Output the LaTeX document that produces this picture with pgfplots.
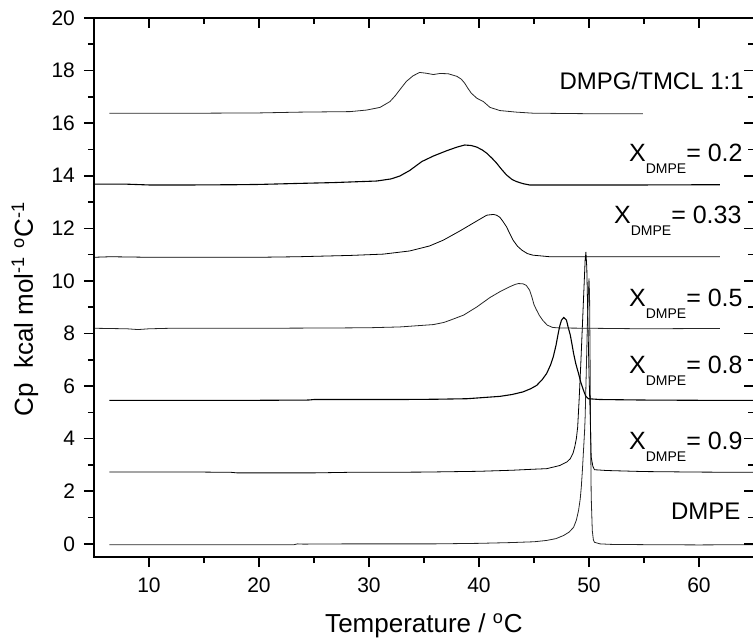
\documentclass[border=0pt]{standalone}
\usepackage{pgfplots}
\pgfplotsset{compat=1.18}
\usepackage{fontspec}
\setmainfont{Liberation Sans}
\newcommand{\xd}[1]{X\raisebox{-5.8pt}{\fontsize{7}{7}\selectfont DMPE}= #1}
\begin{document}
\begin{tikzpicture}
\pgfplotsset{
  common/.style={
    scale only axis, width=330pt, height=269.5pt,
    xmin=5, xmax=65, ymin=-0.5, ymax=20,
    xtick={10,20,30,40,50,60}, ytick={0,2,4,6,8,10,12,14,16,18,20},
    minor x tick num=1, minor y tick num=1,
    major tick length=5pt, minor tick length=3pt,
    axis line style={line width=1pt},
    every tick/.style={line width=0.8pt, black},
    /pgf/number format/assume math mode=true,
    ticklabel style={font=\fontsize{10.5}{12}\selectfont},
  }
}
\begin{axis}[common,
  tick align=outside, xtick pos=left, ytick pos=left,
  xlabel={Temperature / \textsuperscript{o}C},
  ylabel={Cp\ \ kcal mol\textsuperscript{-1} \textsuperscript{o}C\textsuperscript{-1}},
  xlabel style={font=\fontsize{13}{15}\selectfont, at={(axis description cs:0.5,0)}, anchor=base, yshift=-37.5pt},
  ylabel style={font=\fontsize{13}{15}\selectfont, at={(axis description cs:-0.1045,0.46)}, anchor=center},
  xticklabel style={yshift=-2pt},
  yticklabel style={xshift=-1pt},
  cycle list={{black!85, no marks, line width=0.55pt}},
  label style={inner sep=0pt},
]
% DMPE
\addplot coordinates {(6.4,-0.03)(10,-0.03)(15,-0.03)(20,-0.03)(23.2,-0.03)(23.5,0.0)(24,-0.01)(28,0.0)(32,0.0)(36,0.0)(40,0.02)(43,0.05)(45,0.08)(46.15,0.13)(47,0.2)(47.7,0.32)(48.2,0.45)(48.6,0.63)(48.85,0.9)(49.05,1.27)(49.2,1.7)(49.3,2.16)(49.4,2.8)(49.5,3.55)(49.6,4.3)(49.65,4.82)(49.75,6.5)(49.85,8.3)(49.95,9.6)(50.0,10.1)(50.05,9.5)(50.1,7.0)(50.15,4.0)(50.2,1.8)(50.3,0.5)(50.4,0.15)(50.5,0.06)(51,0.0)(52,-0.02)(55,-0.03)(60,-0.04)(65,-0.03)};
% X 0.9
\addplot coordinates {(6.4,2.73)(10,2.73)(15,2.73)(17.5,2.72)(18,2.70)(20,2.70)(25,2.70)(28,2.72)(30,2.72)(35,2.73)(40,2.76)(43,2.8)(45,2.84)(46.15,2.86)(47.35,2.98)(48.0,3.12)(48.3,3.24)(48.55,3.45)(48.7,3.68)(48.85,4.0)(48.97,4.44)(49.1,5.46)(49.25,6.8)(49.4,8.3)(49.55,9.8)(49.65,10.8)(49.72,11.1)(49.8,10.5)(49.9,8.5)(50.0,6.5)(50.1,5.0)(50.2,3.3)(50.35,2.95)(50.5,2.82)(51.6,2.79)(55,2.75)(60,2.73)(65,2.72)};
% X 0.8
\addplot coordinates {(6.4,5.46)(10,5.46)(15,5.46)(20,5.46)(24.5,5.47)(25,5.49)(30,5.49)(32.8,5.49)(36,5.5)(38.9,5.52)(41.9,5.61)(43,5.68)(44.0,5.78)(44.7,5.9)(45.25,6.03)(45.75,6.25)(46.15,6.48)(46.5,6.8)(46.75,7.11)(47.0,7.55)(47.2,8.0)(47.35,8.3)(47.5,8.51)(47.7,8.61)(47.95,8.51)(48.1,8.25)(48.3,7.94)(48.45,7.6)(48.6,7.24)(48.8,6.85)(49.05,6.48)(49.25,6.15)(49.5,5.84)(49.7,5.62)(49.95,5.52)(51.0,5.49)(55,5.47)(60,5.46)(65,5.46)};
% X 0.5
\addplot coordinates {(5.0,8.2)(8,8.18)(9,8.15)(10,8.18)(12,8.2)(20,8.2)(26.5,8.21)(30,8.22)(32.8,8.25)(34.5,8.3)(35.85,8.34)(36.8,8.42)(37.4,8.51)(38.6,8.7)(39.8,9.01)(41.0,9.37)(41.9,9.59)(42.8,9.78)(43.3,9.87)(43.6,9.9)(44.0,9.89)(44.3,9.83)(44.6,9.65)(44.8,9.4)(45.0,9.1)(45.2,8.92)(45.5,8.68)(45.8,8.5)(46.2,8.32)(46.7,8.23)(47.4,8.21)(50,8.2)(55,8.18)(60,8.19)(61.9,8.19)};
% X 0.33
\addplot coordinates {(5.0,10.9)(6.5,10.92)(10,10.9)(15,10.9)(20,10.9)(23.5,10.92)(28.3,10.97)(31.3,11.02)(33.7,11.14)(35.5,11.33)(36.75,11.55)(38.3,11.91)(39.8,12.28)(40.7,12.5)(41.3,12.53)(41.6,12.5)(41.9,12.42)(42.2,12.25)(42.5,12.06)(42.8,11.8)(43.1,11.55)(43.5,11.32)(43.9,11.17)(44.4,11.04)(44.9,10.98)(46.45,10.92)(50,10.92)(55,10.92)(61.9,10.92)};
% X 0.2
\addplot coordinates {(5.0,13.68)(8,13.68)(10,13.65)(14,13.65)(18,13.66)(20,13.67)(23.7,13.71)(26.75,13.74)(30.7,13.8)(32.0,13.88)(32.8,13.99)(33.7,14.2)(34.8,14.54)(35.85,14.75)(37.05,14.95)(38.0,15.09)(38.7,15.17)(39.3,15.15)(39.8,15.09)(40.3,14.98)(40.7,14.86)(41.2,14.66)(41.6,14.48)(42.0,14.27)(42.5,14.03)(43.0,13.86)(43.4,13.78)(44.0,13.7)(44.6,13.65)(46.45,13.65)(50,13.65)(55,13.65)(61.9,13.66)};
% DMPG/TMCL
\addplot coordinates {(6.4,16.38)(10,16.38)(15,16.38)(20,16.39)(23.7,16.42)(28.3,16.44)(29.8,16.5)(31.0,16.6)(31.9,16.82)(32.4,17.05)(32.8,17.27)(33.4,17.59)(34.0,17.8)(34.6,17.93)(35.2,17.9)(35.85,17.85)(36.45,17.89)(37.2,17.88)(38.0,17.78)(38.4,17.67)(38.7,17.52)(39.0,17.32)(39.3,17.14)(39.8,16.95)(40.4,16.82)(41.0,16.6)(41.9,16.48)(43.4,16.42)(44.9,16.38)(50,16.36)(54.9,16.36)};
\node[anchor=base east, font=\fontsize{12}{14}\selectfont, inner sep=0pt] at (axis cs:64.1,17.27) {DMPG/TMCL 1:1};
\node[anchor=base east, font=\fontsize{12.5}{14}\selectfont, inner sep=0pt] at (axis cs:64.0,14.54) {\xd{0.2}};
\node[anchor=base east, font=\fontsize{12.5}{14}\selectfont, inner sep=0pt] at (axis cs:63.9,12.17) {\xd{0.33}};
\node[anchor=base east, font=\fontsize{12.5}{14}\selectfont, inner sep=0pt] at (axis cs:64.0,9.01) {\xd{0.5}};
\node[anchor=base east, font=\fontsize{12.5}{14}\selectfont, inner sep=0pt] at (axis cs:64.0,6.48) {\xd{0.8}};
\node[anchor=base east, font=\fontsize{12.5}{14}\selectfont, inner sep=0pt] at (axis cs:64.0,3.59) {\xd{0.9}};
\node[anchor=base east, font=\fontsize{12}{14}\selectfont, inner sep=0pt] at (axis cs:63.8,0.91) {DMPE};
\end{axis}
\begin{axis}[common,
  tick align=inside, xtick pos=right, ytick pos=right,
  xticklabels={}, yticklabels={},
]
\end{axis}
\pgfresetboundingbox
\path[use as bounding box] (-47pt,-41pt) rectangle (329.5pt,278.5pt);
\end{tikzpicture}
\end{document}
